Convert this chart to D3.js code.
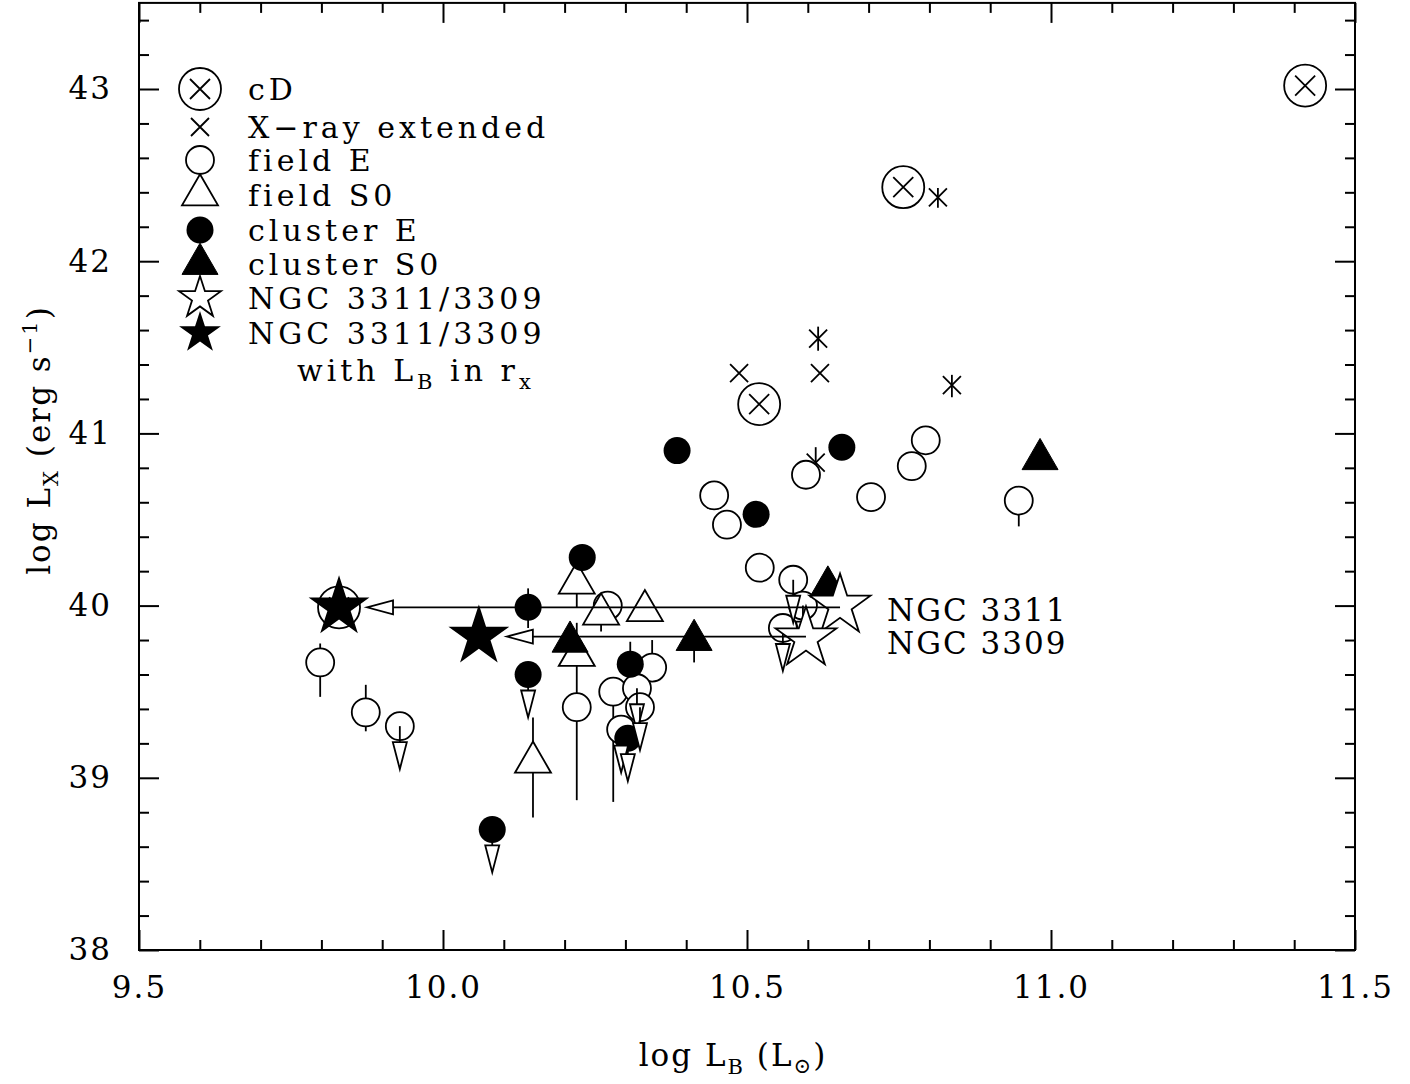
<!DOCTYPE html>
<html lang="en">
<head>
<meta charset="UTF-8">
<title>log LX vs log LB</title>
<script src="https://d3js.org/d3.v7.min.js"></script>
<style>
  body { margin: 0; background: #fff; }
  text { font-family: "DejaVu Serif", serif; fill: #000; }
  .lbl { font-size: 31px; letter-spacing: 2px; }
  .leg { font-size: 30px; letter-spacing: 4px; }
</style>
</head>
<body>
<svg id="chart" width="1410" height="1084"></svg>
<script>
// [log LB, log LX, lower end of bar, upper end of bar, upper limit flag]
const cdPts = [[11.418, 43.02], [10.757, 42.43], [10.520, 41.17], [9.829, 39.99]];
const xrayExt = [
  [10.814, 42.37, 42.31, 42.425], [10.617, 41.55, 41.48, 41.62], [10.620, 41.35, null, null],
  [10.487, 41.35, null, null], [10.837, 41.28, 41.21, 41.34], [10.613, 40.83, 40.72, 40.92]
];
const fieldE = [
  [9.798, 39.67, 39.47, 39.78, 0], [9.873, 39.38, 39.27, 39.54, 0], [9.929, 39.30, null, null, 1],
  [10.220, 39.41, 38.87, null, 0], [10.271, 40.00, null, null, 0], [10.344, 39.64, null, 39.80, 0],
  [10.280, 39.50, 38.86, null, 0], [10.319, 39.52, null, null, 1], [10.324, 39.41, null, null, 1],
  [10.293, 39.28, null, null, 1], [10.446, 40.64, null, null, 0], [10.467, 40.47, null, null, 0],
  [10.521, 40.22, null, null, 0], [10.576, 40.15, null, null, 1], [10.592, 40.00, null, null, 1],
  [10.559, 39.87, null, null, 1], [10.597, 40.76, null, null, 0], [10.704, 40.63, null, null, 0],
  [10.771, 40.81, null, null, 0], [10.794, 40.96, null, null, 0], [10.947, 40.61, 40.46, null, 0]
];
const fieldS0 = [
  [10.220, 40.13, 39.99, null, 0], [10.260, 39.95, 39.85, null, 0], [10.332, 39.97, null, null, 0],
  [10.220, 39.71, 39.41, 39.90, 0], [10.148, 39.09, 38.77, 39.35, 0]
];
const clusterE = [
  [10.385, 40.90, null, null, 0], [10.656, 40.92, null, null, 0], [10.515, 40.53, null, null, 0],
  [10.229, 40.28, null, null, 0], [10.140, 39.99, 39.87, 40.10, 0], [10.140, 39.60, null, null, 1],
  [10.308, 39.66, null, 39.79, 0], [10.304, 39.23, null, null, 1], [10.081, 38.70, null, null, 1]
];
const clusterS0 = [
  [10.982, 40.85, null, null, 0], [10.413, 39.80, 39.67, null, 0],
  [10.209, 39.79, null, 39.90, 0], [10.633, 40.11, null, null, 0]
];
const ngcNames = ["NGC 3311", "NGC 3309"];
const ngcTotal = [[10.653, 40.00], [10.597, 39.81]];
const ngcInRx = [[9.829, 39.99], [10.059, 39.82]];

const xMajor = [9.5, 10.0, 10.5, 11.0, 11.5];
const yMajor = [38, 39, 40, 41, 42, 43];
const legendLabels = ["cD", "X\u2212ray extended", "field E", "field S0", "cluster E",
                      "cluster S0", "NGC 3311/3309", "NGC 3311/3309"];

const svg = d3.select("#chart");
const x = d3.scaleLinear().domain([9.5, 11.5]).range([139, 1355]);
const y = d3.scaleLinear().domain([38, 43.5]).range([950, 2.9]);
const SW = 1.8;

// symbol shapes, pixel units around (0,0)
const tri = "M0,-20.8L18,10.4L-18,10.4Z";
const star = (R) => {
  const p = [];
  for (let i = 0; i < 10; i++) {
    const r = i % 2 ? R * 0.382 : R;
    const a = -Math.PI / 2 + i * Math.PI / 5;
    p.push([r * Math.cos(a), r * Math.sin(a)]);
  }
  return "M" + p.join("L") + "Z";
};
const cross = (h) => `M${-h},${-h}L${h},${h}M${-h},${h}L${h},${-h}`;

function drawSymbol(g, kind, starR = 32) {
  if (kind === "cD") {
    g.append("circle").attr("r", 21).attr("fill", "none").attr("stroke", "#000").attr("stroke-width", SW);
    g.append("path").attr("d", cross(10)).attr("stroke", "#000").attr("stroke-width", SW);
  } else if (kind === "xray") {
    g.append("path").attr("d", cross(9)).attr("stroke", "#000").attr("stroke-width", SW);
  } else if (kind === "fieldE") {
    g.append("circle").attr("r", 14).attr("fill", "#fff").attr("stroke", "#000").attr("stroke-width", SW);
  } else if (kind === "clusterE") {
    g.append("circle").attr("r", 13.5).attr("fill", "#000");
  } else if (kind === "fieldS0") {
    g.append("path").attr("d", tri).attr("fill", "#fff").attr("stroke", "#000").attr("stroke-width", SW);
  } else if (kind === "clusterS0") {
    g.append("path").attr("d", tri).attr("fill", "#000").attr("stroke", "#000").attr("stroke-width", 1);
  } else if (kind === "starOpen") {
    g.append("path").attr("d", star(starR)).attr("fill", "#fff").attr("stroke", "#000").attr("stroke-width", SW);
  } else if (kind === "starFilled") {
    g.append("path").attr("d", star(starR)).attr("fill", "#000");
  }
}

// frame
svg.append("rect").attr("x", x(9.5)).attr("y", y(43.5))
  .attr("width", x(11.5) - x(9.5)).attr("height", y(38) - y(43.5))
  .attr("fill", "none").attr("stroke", "#000").attr("stroke-width", 2);

// axes: major + minor ticks on all four sides, pointing inward
const xMinor = d3.range(95, 116).map(d => d / 10).filter(d => !xMajor.includes(d));
const yMinor = d3.range(190, 218).map(d => d / 5).filter(d => !yMajor.includes(d) && d <= 43.5);

function styleAxis(g) {
  g.select(".domain").remove();
  g.selectAll("line").attr("stroke", "#000").attr("stroke-width", 2);
  g.selectAll("text").attr("class", "lbl").attr("font-size", null).attr("font-family", null);
}
svg.append("g").attr("transform", `translate(0,${y(38)})`)
  .call(d3.axisBottom(x).tickValues(xMajor).tickSize(-20).tickPadding(26).tickFormat(d3.format(".1f")))
  .call(styleAxis);
svg.append("g").attr("transform", `translate(0,${y(38)})`)
  .call(d3.axisBottom(x).tickValues(xMinor).tickSize(-10).tickFormat(""))
  .call(styleAxis);
svg.append("g").attr("transform", `translate(0,${y(43.5)})`)
  .call(d3.axisTop(x).tickValues(xMajor).tickSize(-20).tickFormat(""))
  .call(styleAxis);
svg.append("g").attr("transform", `translate(0,${y(43.5)})`)
  .call(d3.axisTop(x).tickValues(xMinor).tickSize(-10).tickFormat(""))
  .call(styleAxis);
svg.append("g").attr("transform", `translate(${x(9.5)},0)`)
  .call(d3.axisLeft(y).tickValues(yMajor).tickSize(-20).tickPadding(27).tickFormat(d3.format("d")))
  .call(styleAxis);
svg.append("g").attr("transform", `translate(${x(9.5)},0)`)
  .call(d3.axisLeft(y).tickValues(yMinor).tickSize(-10).tickFormat(""))
  .call(styleAxis);
svg.append("g").attr("transform", `translate(${x(11.5)},0)`)
  .call(d3.axisRight(y).tickValues(yMajor).tickSize(-20).tickFormat(""))
  .call(styleAxis);
svg.append("g").attr("transform", `translate(${x(11.5)},0)`)
  .call(d3.axisRight(y).tickValues(yMinor).tickSize(-10).tickFormat(""))
  .call(styleAxis);

// axis titles
const xt = svg.append("text").attr("class", "lbl").attr("x", 733).attr("y", 1066).attr("text-anchor", "middle");
xt.append("tspan").text("log  L");
xt.append("tspan").attr("dy", 8).attr("font-size", 21).text("B");
xt.append("tspan").attr("dy", -8).text(" (L");
xt.append("tspan").attr("dy", 7).attr("font-size", 21).text("\u2299");
xt.append("tspan").attr("dy", -7).text(")");

const yt = svg.append("text").attr("class", "lbl").attr("transform", "translate(50,440) rotate(-90)")
  .attr("text-anchor", "middle");
yt.append("tspan").text("log L");
yt.append("tspan").attr("dy", 8).attr("font-size", 21).text("X");
yt.append("tspan").attr("dy", -8).text(" (erg s");
yt.append("tspan").attr("dy", -13).attr("font-size", 21).text("\u22121");
yt.append("tspan").attr("dy", 13).text(")");

// data layers
const plot = svg.append("g");
const allSets = [
  [cdPts, "cD"], [xrayExt, "xray"], [fieldE, "fieldE"], [fieldS0, "fieldS0"],
  [clusterE, "clusterE"], [clusterS0, "clusterS0"]
];

// error bars first
allSets.forEach(([data]) => {
  data.forEach(d => {
    const lo = d[2] == null ? d[1] : d[2];
    const hi = d[3] == null ? d[1] : d[3];
    if (lo !== hi) {
      plot.append("line").attr("x1", x(d[0])).attr("x2", x(d[0]))
        .attr("y1", y(lo)).attr("y2", y(hi))
        .attr("stroke", "#000").attr("stroke-width", SW);
    }
  });
});

allSets.forEach(([data, kind]) => {
  data.forEach(d => {
    const g = plot.append("g").attr("transform", `translate(${x(d[0])},${y(d[1])})`);
    drawSymbol(g, kind);
  });
});

// upper limit arrows
allSets.forEach(([data]) => {
  data.filter(d => d[4]).forEach(d => {
    const g = plot.append("g").attr("transform", `translate(${x(d[0])},${y(d[1])})`);
    g.append("line").attr("y1", 0).attr("y2", 16).attr("stroke", "#000").attr("stroke-width", SW);
    g.append("path").attr("d", "M-7,16L7,16L0,43Z").attr("fill", "#fff")
      .attr("stroke", "#000").attr("stroke-width", SW);
  });
});

// NGC 3311 / 3309: total and within r_x, joined by arrows
ngcTotal.forEach(d => {
  drawSymbol(plot.append("g").attr("transform", `translate(${x(d[0])},${y(d[1])})`), "starOpen");
});
const labelX = x(ngcTotal[0][0]) + 47;
ngcTotal.forEach((d, i) => {
  const e = ngcInRx[i];
  const tip = x(e[0]) + 28, yy = y(e[1]);
  plot.append("line").attr("x1", x(d[0])).attr("x2", tip + 26)
    .attr("y1", yy).attr("y2", yy).attr("stroke", "#000").attr("stroke-width", SW);
  plot.append("path").attr("d", `M${tip},${yy}L${tip + 26},${yy - 7}L${tip + 26},${yy + 7}Z`)
    .attr("fill", "#fff").attr("stroke", "#000").attr("stroke-width", SW);
  plot.append("text").attr("class", "lbl").attr("x", labelX).attr("y", i ? 654 : 621)
    .text(ngcNames[i]);
});
ngcInRx.forEach(d => {
  drawSymbol(plot.append("g").attr("transform", `translate(${x(d[0])},${y(d[1])})`), "starFilled");
});

// legend
const legKinds = ["cD", "xray", "fieldE", "fieldS0", "clusterE", "clusterS0", "starOpen", "starFilled"];
const legY = [89, 127, 160, 195, 230, 264, 298, 333];
legKinds.forEach((k, i) => {
  drawSymbol(svg.append("g").attr("transform", `translate(200,${legY[i]})`), k, 22);
  svg.append("text").attr("class", "leg").attr("x", 248).attr("y", legY[i] + 11).text(legendLabels[i]);
});
const lt = svg.append("text").attr("class", "leg").attr("x", 297).attr("y", 381);
lt.append("tspan").text("with L");
lt.append("tspan").attr("dy", 8).attr("font-size", 21).text("B");
lt.append("tspan").attr("dy", -8).text(" in r");
lt.append("tspan").attr("dy", 8).attr("font-size", 21).text("x");
</script>
</body>
</html>
